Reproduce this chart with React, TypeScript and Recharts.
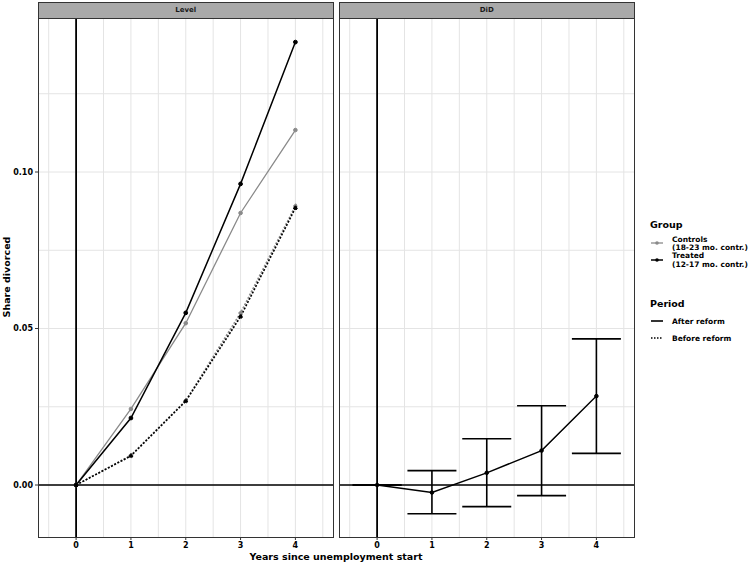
import React from 'react'
import { ComposedChart, Line, XAxis, YAxis, ReferenceLine, ErrorBar } from 'recharts'

// years since unemployment start
const years = [0, 1, 2, 3, 4]

// Level panel
const treatedAfter = [0, 0.0214, 0.055, 0.0962, 0.1415]
const controlsAfter = [0, 0.0243, 0.0517, 0.0869, 0.1134]
const treatedBefore = [0, 0.0093, 0.0268, 0.0538, 0.0885]
const controlsBefore = [0, 0.0095, 0.027, 0.055, 0.0892]

// DiD panel
const didEstimate = [0, -0.0024, 0.0039, 0.011, 0.0284]
const didLower = [0, -0.0092, -0.0069, -0.0034, 0.0101]
const didUpper = [0, 0.0046, 0.0148, 0.0253, 0.0467]

const xTicks = [0, 1, 2, 3, 4]
const yTicks = [0, 0.05, 0.1]
const xGrid = [-0.5, 0, 0.5, 1, 1.5, 2, 2.5, 3, 3.5, 4, 4.5]
const yGrid = [0, 0.025, 0.05, 0.075, 0.1, 0.125]

const X_DOMAIN: [number, number] = [-0.695, 4.695]
const Y_DOMAIN: [number, number] = [-0.01661, 0.14920]

const FONT = '"DejaVu Sans", sans-serif'
const GRID = '#e4e4e4'
const BORDER = '#333333'
const GREY = '#8a8a8a'

const levelData = years.map((y, i) => ({
  year: y,
  treatedAfter: treatedAfter[i],
  controlsAfter: controlsAfter[i],
  treatedBefore: treatedBefore[i],
  controlsBefore: controlsBefore[i],
}))

const didData = years.map((y, i) => ({
  year: y,
  est: didEstimate[i],
  err: [didEstimate[i] - didLower[i], didUpper[i] - didEstimate[i]],
}))

const tickStyle = { fontSize: 8, fontWeight: 700, fill: '#000', fontFamily: FONT }

function grid() {
  return [
    ...xGrid.map((v) => <ReferenceLine key={'gx' + v} x={v} stroke={GRID} strokeWidth={1} />),
    ...yGrid.map((v) => <ReferenceLine key={'gy' + v} y={v} stroke={GRID} strokeWidth={1} />),
  ]
}

function Panel({ left, title }: { left: number; title: string }) {
  return (
    <>
      <div
        style={{
          position: 'absolute', left, top: 2, width: 295.5, height: 16.5, boxSizing: 'border-box',
          background: '#a9a9a9', border: `1px solid ${BORDER}`, fontFamily: FONT, fontSize: 7,
          fontWeight: 700, textAlign: 'center', lineHeight: '14.5px', color: '#1a1a1a',
        }}
      >
        {title}
      </div>
      <div
        style={{
          position: 'absolute', left, top: 18, width: 295.5, height: 519.5, boxSizing: 'border-box',
          border: `1px solid ${BORDER}`, pointerEvents: 'none',
        }}
      />
    </>
  )
}

function Legend() {
  const t = { fontFamily: FONT, fontWeight: 700, fill: '#000' }
  return (
    <svg width={110} height={565} style={{ position: 'absolute', left: 640, top: 0 }}>
      <text x={10} y={228} fontSize={9.5} {...t}>Group</text>
      <line x1={11} x2={23} y1={243} y2={243} stroke={GREY} strokeWidth={1.3} />
      <circle cx={17} cy={243} r={1.8} fill={GREY} />
      <text x={32} y={242} fontSize={7.5} {...t}>Controls</text>
      <text x={32} y={250} fontSize={7.5} {...t}>(18-23 mo. contr.)</text>
      <line x1={11} x2={23} y1={260} y2={260} stroke="#000" strokeWidth={1.5} />
      <circle cx={17} cy={260} r={1.8} fill="#000" />
      <text x={32} y={258} fontSize={7.5} {...t}>Treated</text>
      <text x={32} y={266.5} fontSize={7.5} {...t}>(12-17 mo. contr.)</text>

      <text x={10} y={306.5} fontSize={9.5} {...t}>Period</text>
      <line x1={11} x2={23} y1={321} y2={321} stroke="#000" strokeWidth={1.6} />
      <text x={32} y={324} fontSize={7.5} {...t}>After reform</text>
      <line x1={11} x2={23} y1={338} y2={338} stroke="#000" strokeWidth={1.6} strokeDasharray="1.5 1.5" />
      <text x={32} y={341} fontSize={7.5} {...t}>Before reform</text>
    </svg>
  )
}

export default function App() {
  return (
    <div style={{ position: 'absolute', left: 0, top: 0, width: 750, height: 565, background: '#fff' }}>
      <div style={{ position: 'absolute', left: 0, top: 0 }}>
        <ComposedChart width={340} height={565} data={levelData} margin={{ top: 18, right: 6.5, bottom: 8, left: 0 }}>
          <XAxis
            dataKey="year" type="number" domain={X_DOMAIN} ticks={xTicks} allowDataOverflow
            axisLine={false} tickSize={3} tickLine={{ stroke: BORDER }} height={20} tick={tickStyle}
          />
          <YAxis
            type="number" domain={Y_DOMAIN} ticks={yTicks} allowDataOverflow width={38}
            axisLine={false} tickSize={3} tickLine={{ stroke: BORDER }} tick={tickStyle}
            tickFormatter={(v: number) => v.toFixed(2)}
          />
          {grid()}
          <ReferenceLine x={0} stroke="#000" strokeWidth={1.8} />
          <ReferenceLine y={0} stroke="#000" strokeWidth={1.3} />
          <Line dataKey="controlsBefore" stroke={GREY} strokeWidth={1.5} strokeDasharray="2 1.6"
            dot={{ r: 1.8, fill: GREY, stroke: GREY, strokeWidth: 1 }} isAnimationActive={false} />
          <Line dataKey="controlsAfter" stroke={GREY} strokeWidth={1.3}
            dot={{ r: 1.8, fill: GREY, stroke: GREY, strokeWidth: 1 }} isAnimationActive={false} />
          <Line dataKey="treatedBefore" stroke="#000" strokeWidth={1.6} strokeDasharray="2 1.6"
            dot={{ r: 1.9, fill: '#000', stroke: '#000', strokeWidth: 1 }} isAnimationActive={false} />
          <Line dataKey="treatedAfter" stroke="#000" strokeWidth={1.5}
            dot={{ r: 1.9, fill: '#000', stroke: '#000', strokeWidth: 1 }} isAnimationActive={false} />
        </ComposedChart>
      </div>

      <div style={{ position: 'absolute', left: 339, top: 0 }}>
        <ComposedChart width={300} height={565} data={didData} margin={{ top: 18, right: 4.5, bottom: 8, left: 0 }}>
          <XAxis
            dataKey="year" type="number" domain={X_DOMAIN} ticks={xTicks} allowDataOverflow
            axisLine={false} tickSize={3} tickLine={{ stroke: BORDER }} height={20} tick={tickStyle}
          />
          <YAxis type="number" domain={Y_DOMAIN} allowDataOverflow hide />
          {grid()}
          <ReferenceLine x={0} stroke="#000" strokeWidth={1.8} />
          <ReferenceLine y={0} stroke="#000" strokeWidth={1.3} />
          <Line dataKey="est" stroke="#000" strokeWidth={1.4}
            dot={{ r: 1.8, fill: '#000', stroke: '#000', strokeWidth: 1 }} isAnimationActive={false}>
            <ErrorBar dataKey="err" direction="y" width={24.5} stroke="#000" strokeWidth={1.6} isAnimationActive={false} />
          </Line>
        </ComposedChart>
      </div>

      <Panel left={38} title="Level" />
      <Panel left={339} title="DiD" />

      <div
        style={{
          position: 'absolute', left: 6, top: 277, transform: 'translate(-50%, -50%) rotate(-90deg)',
          fontFamily: FONT, fontSize: 9.5, fontWeight: 700, whiteSpace: 'nowrap',
        }}
      >
        Share divorced
      </div>
      <div
        style={{
          position: 'absolute', left: 0, width: 672, top: 551, textAlign: 'center',
          fontFamily: FONT, fontSize: 9.5, fontWeight: 700, whiteSpace: 'nowrap',
        }}
      >
        Years since unemployment start
      </div>

      <Legend />
    </div>
  )
}
